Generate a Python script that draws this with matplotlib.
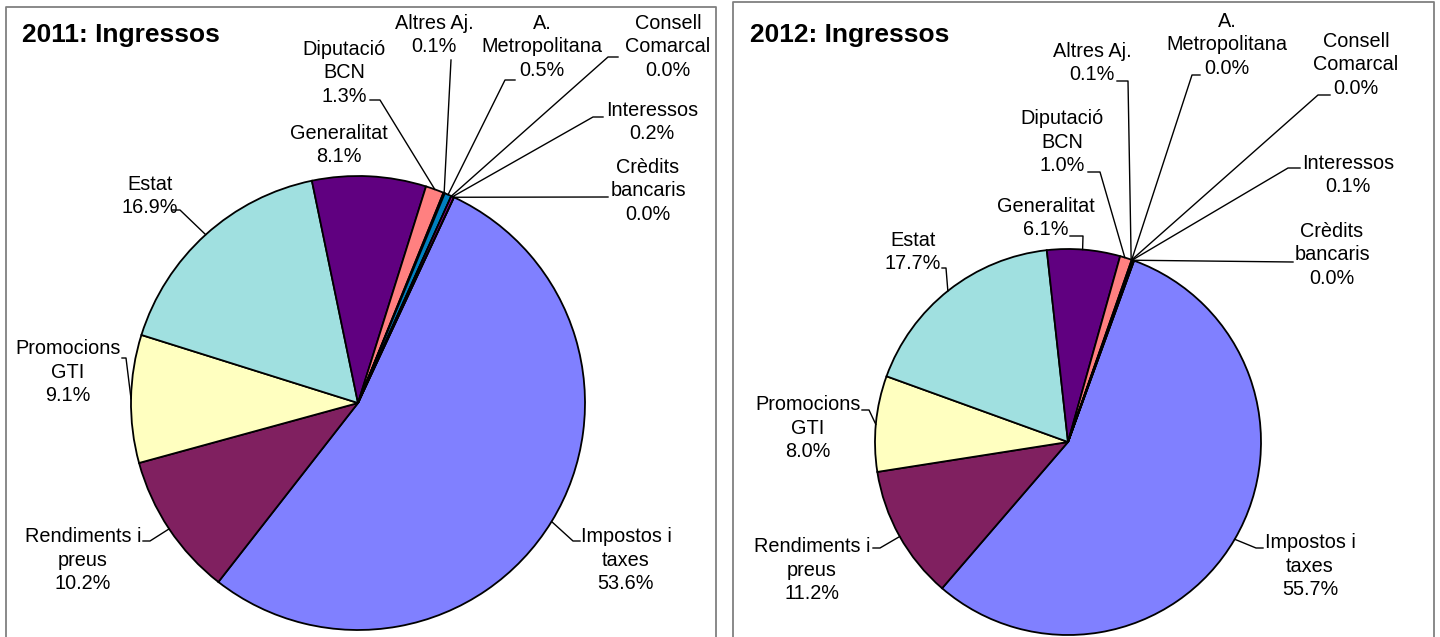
import numpy as np
import matplotlib.pyplot as plt

plt.rcParams['font.family'] = ['Liberation Sans', 'DejaVu Sans']

W, H = 1440, 637

categories = ["Impostos i\ntaxes", "Rendiments i\npreus", "Promocions\nGTI", "Estat",
              "Generalitat", "Diputació\nBCN", "Altres Aj.", "A.\nMetropolitana",
              "Consell\nComarcal", "Interessos", "Crèdits\nbancaris"]
values_2011 = [53.6, 10.2, 9.1, 16.9, 8.1, 1.3, 0.1, 0.5, 0.0, 0.2, 0.0]
values_2012 = [55.7, 11.2, 8.0, 17.7, 6.1, 1.0, 0.1, 0.0, 0.0, 0.1, 0.0]
colors = ["#8080FF", "#802060", "#FFFFC0", "#A0E0E0", "#600080", "#FF8080",
          "#C0C0FF", "#0080C0", "#000080", "#A000A0", "#FFFF00"]

# layout (pixel coords, y from top)
panels = [
    dict(title="2011: Ingressos", vals=values_2011, box=(6, 7, 716), title_xy=(22, 35),
         center=(358, 403), radius=227, first_angle=25,
         text_xy=[(626, 560), (83, 560), (68, 372), (150, 196), (339, 145), (344, 73),
                  (434, 35), (542, 47), (668, 47), (652, 122), (648, 191)],
         leaders=[[(580, 541), (573, 541)], [(143, 541), (150, 541)],
                  [(122, 358), (126, 358)], [(172, 210), (180, 210)], None,
                  [(370, 100), (380, 100)], [(451, 60)], [(515, 80), (505, 80)],
                  [(618, 57), (608, 57)], [(603, 117), (593, 117)], [(608, 197)]]),
    dict(title="2012: Ingressos", vals=values_2012, box=(733, 2, 1434), title_xy=(750, 35),
         center=(1068, 442), radius=193, first_angle=20,
         text_xy=[(1310, 566), (812, 570), (808, 428), (913, 252), (1046, 218), (1062, 142),
                  (1092, 63), (1227, 45), (1356, 65), (1348, 175), (1332, 255)],
         leaders=[[(1263, 548), (1256, 548)], [(873, 548), (880, 548)],
                  [(862, 410), (869, 410)], [(942, 268), (946, 268)],
                  [(1070, 236), (1083, 236)], [(1088, 172), (1100, 172)],
                  [(1117, 81), (1128, 81)], [(1200, 75), (1192, 75)],
                  [(1330, 95), (1318, 95)], [(1300, 168), (1288, 168)], [(1293, 262)]]),
]


def P(x, y):
    return x, H - y


fig = plt.figure(figsize=(W / 100, H / 100), dpi=100)
ax = fig.add_axes([0, 0, 1, 1])

for p in panels:
    x0, y0, x1 = p["box"]
    ax.plot([x0, x0, x1, x1], [-10, H - y0, H - y0, -10], color="#808080", lw=1.3)
    ax.text(*P(*p["title_xy"]), p["title"], fontsize=19, fontweight="bold",
            va="center", ha="left")

    cx, cy = p["center"]
    r = p["radius"]
    start = 90 - p["first_angle"]
    ax.pie(p["vals"], colors=colors, startangle=start, counterclock=False,
           center=P(cx, cy), radius=r,
           wedgeprops=dict(edgecolor="black", linewidth=1.3))

    vals = np.array(p["vals"])
    cum = np.concatenate([[0], np.cumsum(vals)]) / 100.0
    for i, name in enumerate(categories):
        mid = np.deg2rad(start - 360 * (cum[i] + cum[i + 1]) / 2)
        ax_pt = (cx + r * np.cos(mid), cy - r * np.sin(mid))
        tx, ty = p["text_xy"][i]
        ax.text(*P(tx, ty), f"{name}\n{vals[i]:.1f}%", fontsize=14.3,
                ha="center", va="center", multialignment="center", linespacing=1.3)
        ld = p["leaders"][i]
        if ld is not None:
            pts = ld + [ax_pt]
            ax.plot([q[0] for q in pts], [H - q[1] for q in pts], color="black", lw=1.0)

ax.set_xlim(0, W)
ax.set_ylim(0, H)
ax.set_aspect("equal")
ax.axis("off")
fig.savefig("out.png", dpi=100)
